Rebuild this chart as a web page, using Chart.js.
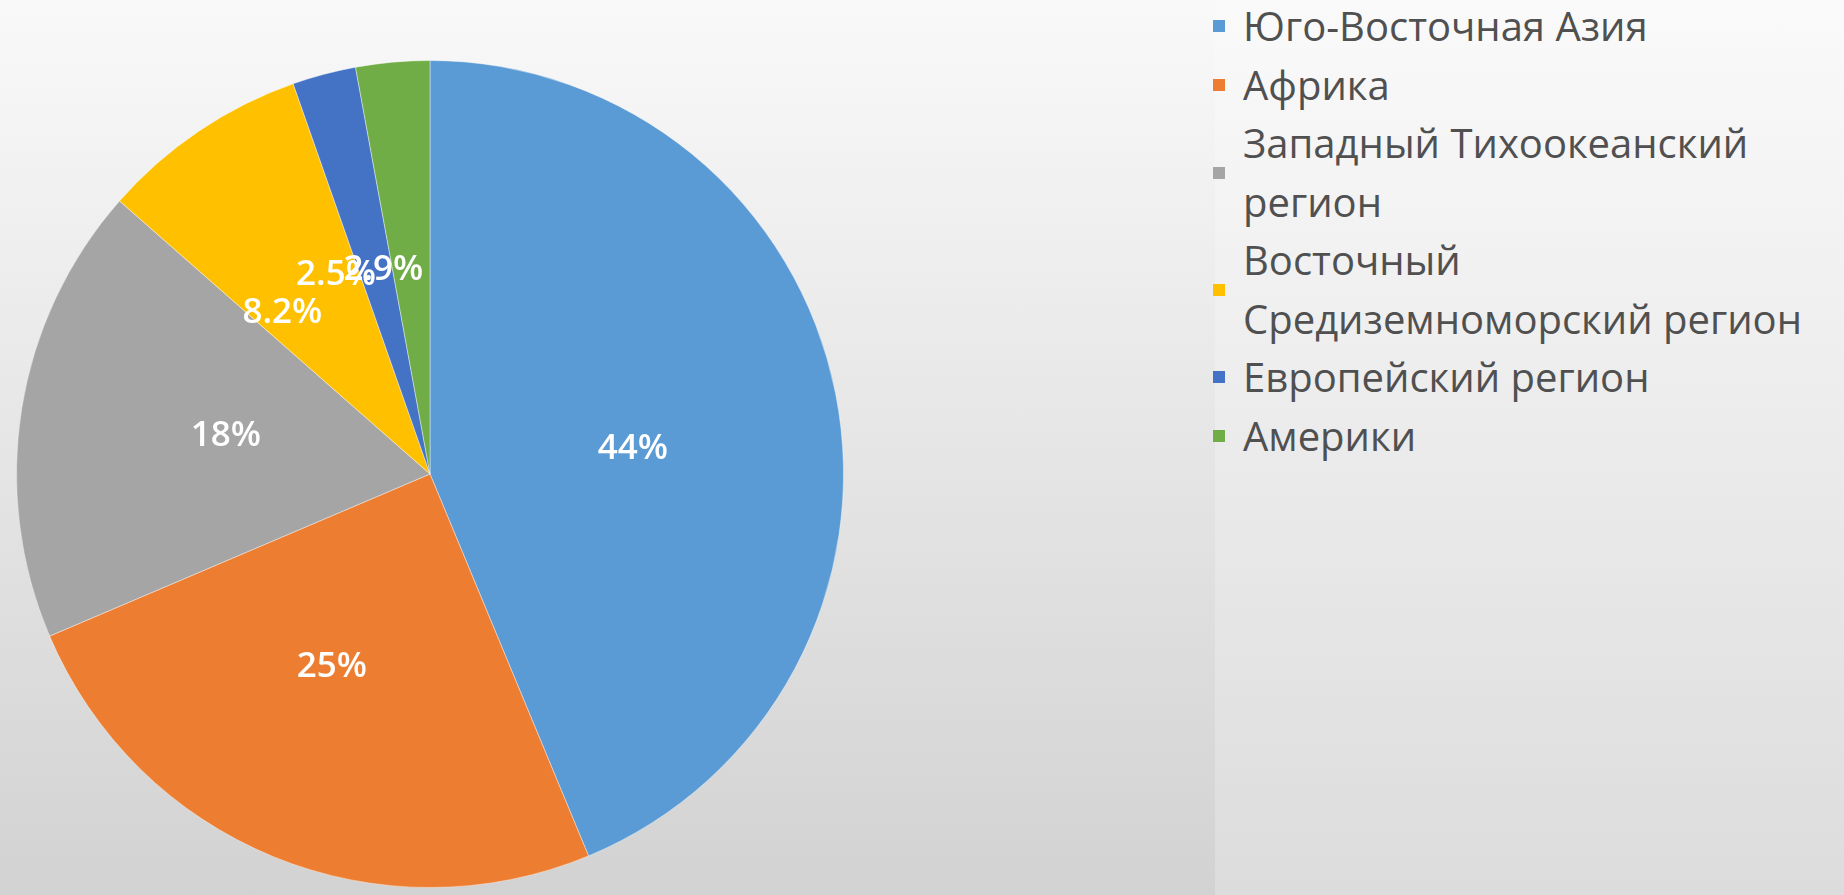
<!DOCTYPE html>
<html lang="ru">
<head>
<meta charset="utf-8">
<title>Распределение по регионам ВОЗ</title>
<script src="https://cdn.jsdelivr.net/npm/chart.js@4.4.1/dist/chart.umd.min.js"></script>
<style>
  html, body { margin: 0; padding: 0; }
  body {
    width: 1844px;
    height: 895px;
    overflow: hidden;
    position: relative;
    background: linear-gradient(to bottom, #f9f9f9 0%, #d2d2d2 100%);
    font-family: "Open Sans", sans-serif;
  }
  #chartBox { position: absolute; left: 0; top: 0; width: 860px; height: 895px; }
  #legendPanel {
    position: absolute; left: 1215px; top: 0; right: 0; bottom: 0;
    background: linear-gradient(to bottom, #fafafa 0%, #dcdcdc 100%);
  }
  #legend { position: absolute; left: 1213px; top: -3px; list-style: none; margin: 0; padding: 0; }
  #legend li { display: flex; align-items: center; }
  .swatch { width: 12px; height: 12px; margin-right: 18px; flex: none; }
  .text { font-size: 40px; line-height: 58.5px; color: #505050; white-space: nowrap; }
</style>
</head>
<body>
<div id="legendPanel"></div>
<div id="chartBox"><canvas id="regionChart" width="860" height="895"></canvas></div>
<ul id="legend"></ul>

<script>
// Regions (legend lines) and their shares, in percent
const regions = [
  ["Юго-Восточная Азия"],
  ["Африка"],
  ["Западный Тихоокеанский", "регион"],
  ["Восточный", "Средиземноморский регион"],
  ["Европейский регион"],
  ["Америки"]
];
const shares = [44, 25, 18, 8.2, 2.5, 2.9];
const sliceColors = ["#5B9BD5", "#ED7D31", "#A5A5A5", "#FFC000", "#4472C4", "#70AD47"];

// Small shifts so the crowded labels near the top spread out a little
const labelNudge = [[0, 15], [-20, 2], [0, -5], [-32, 10], [-41, 1], [-28, 2]];

// Draws the percent value in the middle of each slice
const sliceLabels = {
  id: "sliceLabels",
  afterDatasetsDraw(chart) {
    const ctx = chart.ctx;
    const meta = chart.getDatasetMeta(0);
    ctx.save();
    ctx.font = '600 35px "Open Sans"';
    ctx.fillStyle = "#ffffff";
    ctx.textAlign = "center";
    ctx.textBaseline = "middle";
    meta.data.forEach((arc, i) => {
      const p = arc.tooltipPosition();
      ctx.fillText(shares[i] + "%", p.x + labelNudge[i][0], p.y + labelNudge[i][1]);
    });
    ctx.restore();
  }
};

new Chart(document.getElementById("regionChart"), {
  type: "pie",
  data: {
    labels: regions.map(lines => lines.join(" ")),
    datasets: [{
      data: shares,
      backgroundColor: sliceColors,
      borderColor: "rgba(255,255,255,0.4)",
      borderWidth: 1
    }]
  },
  options: {
    responsive: false,
    animation: false,
    layout: { padding: { left: 16, right: 16, top: 60, bottom: 7 } },
    plugins: {
      legend: { display: false },
      tooltip: { enabled: false }
    }
  },
  plugins: [sliceLabels]
});

// Legend on the right, one entry per region
const legendList = document.getElementById("legend");
regions.forEach((lines, i) => {
  const item = document.createElement("li");
  const swatch = document.createElement("span");
  swatch.className = "swatch";
  swatch.style.background = sliceColors[i];
  const text = document.createElement("span");
  text.className = "text";
  text.innerHTML = lines.join("<br>");
  item.appendChild(swatch);
  item.appendChild(text);
  legendList.appendChild(item);
});
</script>
</body>
</html>
